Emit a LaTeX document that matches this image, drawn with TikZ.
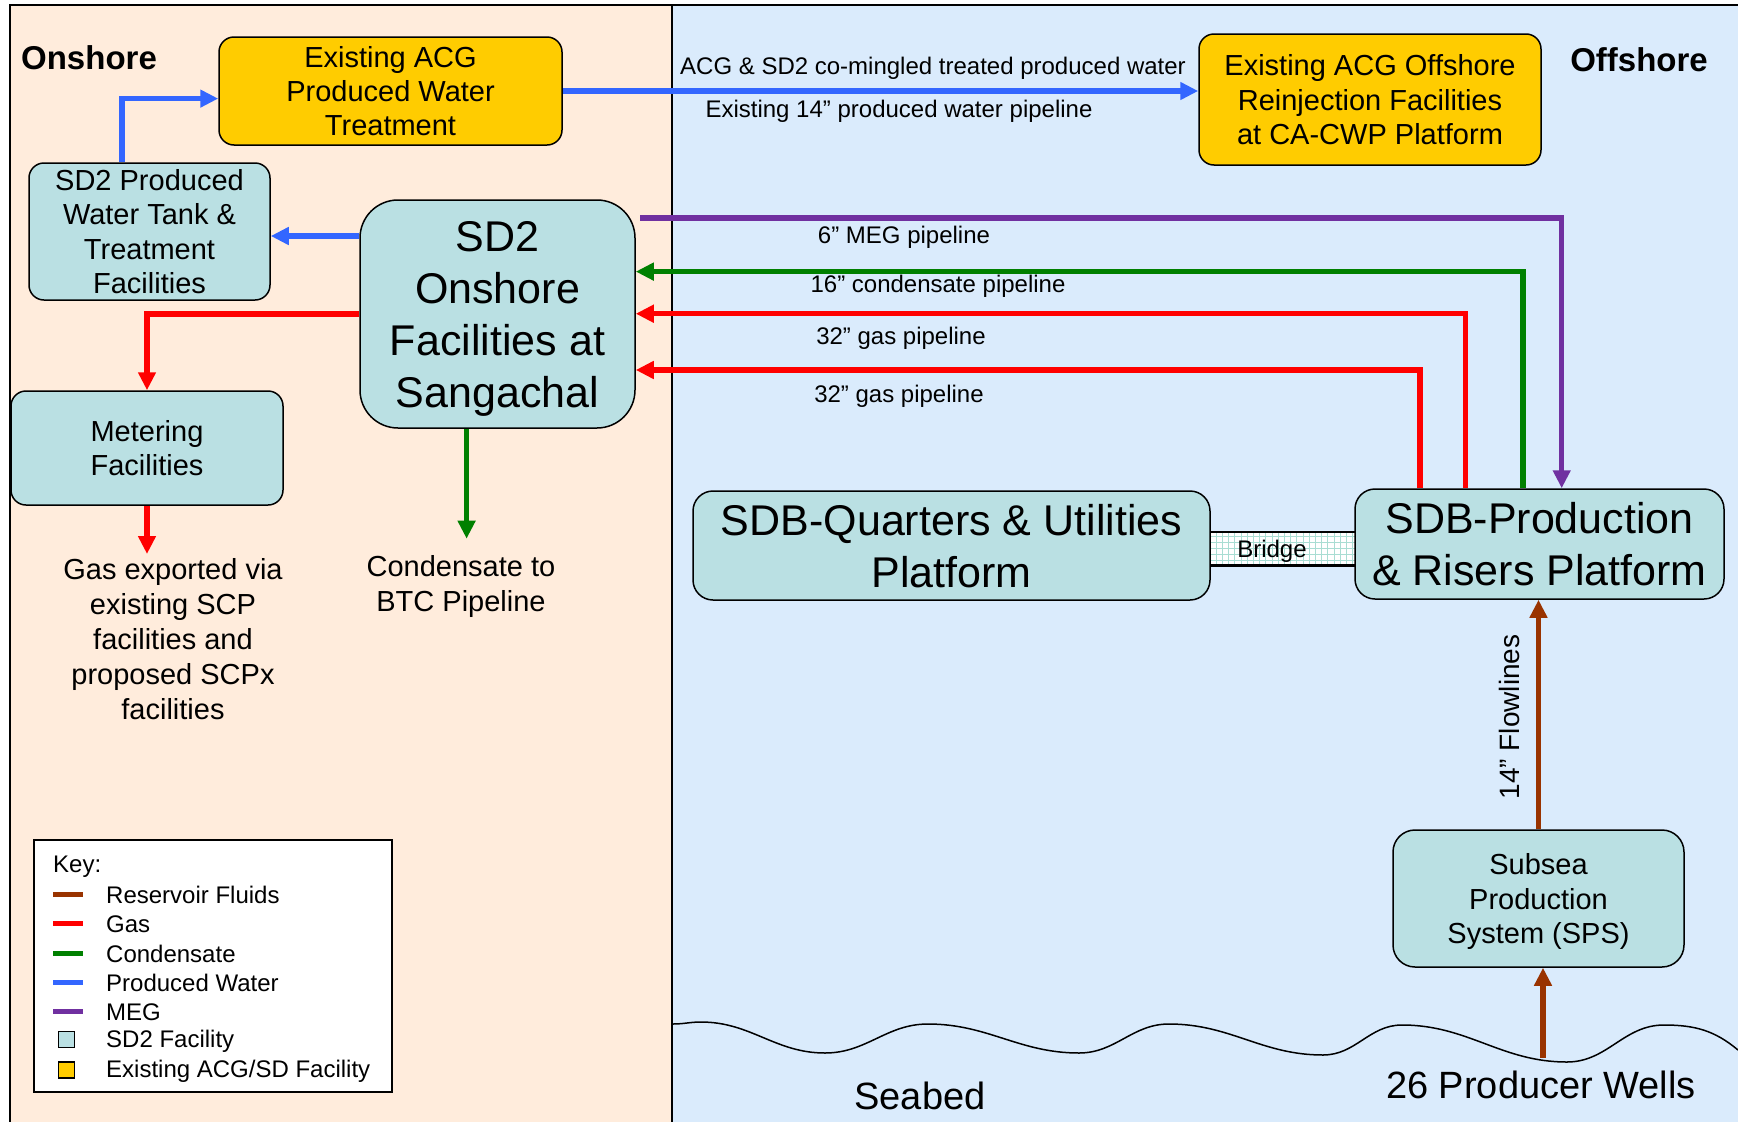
\documentclass[tikz,border=0pt]{standalone}
\usepackage{fontspec}
\setmainfont{Liberation Sans}
\usetikzlibrary{arrows.meta}
\definecolor{peach}{HTML}{FFECDC}
\definecolor{seablue}{HTML}{DAEBFC}
\definecolor{sdteal}{HTML}{BAE0E3}
\definecolor{acgyellow}{HTML}{FFCC00}
\definecolor{pwblue}{HTML}{3366FF}
\definecolor{gasred}{HTML}{FF0000}
\definecolor{condgreen}{HTML}{008000}
\definecolor{megpurple}{HTML}{7030A0}
\definecolor{resbrown}{HTML}{993300}
\definecolor{gridteal}{HTML}{A9DDD3}
\newcommand\fsBox{\fontsize{29}{34.4}\selectfont}
\newcommand\fsBig{\fontsize{43}{52}\selectfont}
\newcommand\fsLbl{\fontsize{24}{29.4}\selectfont}
\newcommand\fsHead{\fontsize{33}{40}\selectfont\bfseries}
\newcommand\fsSea{\fontsize{38}{45}\selectfont}
\begin{document}
\begin{tikzpicture}[x=1pt,y=-1pt,
  facil/.style={draw, line width=1.5pt, rounded corners=15pt, align=center, inner sep=0pt, font=\fsBox, text depth=-3pt},
  sdbox/.style={facil, fill=sdteal},
  exbox/.style={facil, fill=acgyellow},
  pipe/.style={line width=5.5pt, -{Triangle[length=18pt,width=17pt]}},
  lbl/.style={font=\fsLbl, inner sep=0pt},
  txt/.style={font=\fsBox, align=center, inner sep=0pt},
  keyline/.style={line width=5pt},
  keysq/.style={draw, line width=1.2pt, minimum size=16pt, inner sep=0pt},
  keytxt/.style={font=\fsLbl, anchor=west, inner sep=0pt}
]
\useasboundingbox (0,0) rectangle (1738,1122);
% backgrounds
\fill[white] (0,0) rectangle (1738,1122);
\fill[peach] (10,5) rectangle (672,1122);
\fill[seablue] (672,5) rectangle (1738,1122);
\draw[line width=2.5pt] (10,1122) -- (10,5) -- (1738,5);
\draw[line width=2.5pt] (672,5) -- (672,1122);

% seabed
\draw[line width=1.5pt] (673,1024) to[out=0,in=180] (701,1022) to[out=0,in=180] (825,1053)
  to[out=0,in=180] (928,1024) to[out=0,in=180] (1079,1053) to[out=0,in=180] (1169,1024)
  to[out=0,in=180] (1323,1055) to[out=0,in=180] (1402,1025) to[out=0,in=180] (1567,1062)
  to[out=0,in=180] (1664,1025) to[out=0,in=140] (1738,1050);

% headings
\node[font=\fsHead, inner sep=0pt] (onshore) at (89,58) {Onshore};
\node[font=\fsHead, inner sep=0pt] (offshore) at (1639,60) {Offshore};

% bridge
\node[draw, line width=1.5pt, fill=white, minimum width=150pt, minimum height=33pt, inner sep=0pt] (bridge) at (1282.5,548.5) {};
\begin{scope}
  \clip (1208,533) rectangle (1357,564);
  \foreach \i in {0,...,24} {\draw[gridteal, line width=1pt] (1210+6.2*\i,533) -- (1210+6.2*\i,564);}
  \foreach \j in {0,...,5} {\draw[gridteal, line width=1pt] (1208,536+6*\j) -- (1357,536+6*\j);}
\end{scope}
\draw[line width=1.5pt] (bridge.north west) -- (bridge.north east);
\draw[line width=1.5pt] (bridge.south west) -- (bridge.south east);
\node[font=\fsLbl, inner sep=0pt] (bridgetxt) at (1272,551.5) {Bridge};

% facilities
\node[exbox, minimum width=343pt, minimum height=108pt] (acg) at (390.5,91) {Existing ACG\\Produced Water\\Treatment};
\node[sdbox, minimum width=241pt, minimum height=137pt] (tank) at (149.5,231.5) {SD2 Produced\\Water Tank \&\\Treatment\\Facilities};
\node[sdbox, rounded corners=38pt, font=\fsBig, minimum width=275pt, minimum height=228pt] (sd2) at (497.5,314) {SD2\\Onshore\\Facilities at\\Sangachal};
\node[sdbox, minimum width=272pt, minimum height=114pt] (meter) at (147,448) {Metering\\Facilities};
\node[exbox, minimum width=342pt, minimum height=131pt] (reinj) at (1370,99.5) {Existing ACG Offshore\\Reinjection Facilities\\at CA-CWP Platform};
\node[sdbox, rounded corners=20pt, font=\fsBig, minimum width=517pt, minimum height=109pt] (sdbq) at (951.5,545.5) {SDB-Quarters \& Utilities\\Platform};
\node[sdbox, rounded corners=20pt, font=\fsBig, minimum width=369pt, minimum height=110pt] (sdbp) at (1539.5,544) {SDB-Production\\\& Risers Platform};
\node[sdbox, rounded corners=22pt, minimum width=291pt, minimum height=137pt] (sps) at (1538.5,898.5) {Subsea\\Production\\System (SPS)};

% free texts
\node[txt, font=\fontsize{29}{35}\selectfont] (gasexp) at (173,639.5) {Gas exported via\\existing SCP\\facilities and\\proposed SCPx\\facilities};
\node[txt, font=\fontsize{29}{35}\selectfont] (condbtc) at (461,586) {Condensate to\\BTC Pipeline};
\node[font=\fsSea, inner sep=0pt] (seabed) at (920,1096) {Seabed};
\node[font=\fsSea, inner sep=0pt] (wells) at (1541,1085) {26 Producer Wells};

% coordinates
\coordinate (w1) at (122,98.6);
\coordinate (b2) at (0,236);
\coordinate (gx) at (0,554);
\coordinate (cx) at (466.6,538.7);
\coordinate (m1) at (1561.7,218);
\coordinate (c1) at (1523,271.6);
\coordinate (g1) at (1465.3,313.7);
\coordinate (g2) at (1419.9,370);
\coordinate (wl) at (1543,1058);

% produced water
\draw[pipe, pwblue] (tank.north -| w1) |- (acg.west |- w1);
\draw[pipe, pwblue] (acg.east) -- (reinj.west |- acg.east);
\draw[pipe, pwblue] (sd2.west |- b2) -- (tank.east |- b2);
% gas onshore
\draw[pipe, gasred] (sd2.west) -| (meter.north);
\draw[pipe, gasred] (meter.south) -- (meter.south |- gx);
% condensate onshore
\draw[pipe, condgreen] (sd2.south -| cx) -- (cx);
% offshore pipelines
\draw[pipe, megpurple] ([xshift=4.5pt]sd2.east |- m1) -- (m1) -- (sdbp.north -| m1);
\draw[pipe, condgreen] (sdbp.north -| c1) |- (sd2.east |- c1);
\draw[pipe, gasred] (sdbp.north -| g1) |- (sd2.east |- g1);
\draw[pipe, gasred] (sdbp.north -| g2) |- (sd2.east |- g2);
% reservoir fluids
\draw[pipe, resbrown] (sps.north) -- (sdbp.south -| sps.north);
\draw[pipe, resbrown] (wl) -- (sps.south -| wl);

% pipeline labels
\node[lbl] (l1) at (933,68) {ACG \& SD2 co-mingled treated produced water};
\node[lbl] (l2) at (899,111.4) {Existing 14” produced water pipeline};
\node[lbl] (l3) at (904,236.8) {6” MEG pipeline};
\node[lbl] (l4) at (938,285.8) {16” condensate pipeline};
\node[lbl] (l5) at (901,337.8) {32” gas pipeline};
\node[lbl] (l6) at (899,396.3) {32” gas pipeline};
\node[font=\fontsize{28}{33}\selectfont, inner sep=0pt, rotate=90] (l7) at (1509,717) {14” Flowlines};

% key
\node[draw, fill=white, line width=1.5pt, minimum width=358pt, minimum height=252pt, inner sep=0pt] (key) at (213,966) {};
\node[keytxt] (k0) at (53,867) {Key:};
\draw[keyline, resbrown] (53,894) -- (83,894);
\draw[keyline, gasred] (53,923) -- (83,923);
\draw[keyline, condgreen] (53,953) -- (83,953);
\draw[keyline, pwblue] (53,982) -- (83,982);
\draw[keyline, megpurple] (53,1011) -- (83,1011);
\node[keysq, fill=sdteal] (ks1) at (66.5,1039.5) {};
\node[keysq, fill=acgyellow] (ks2) at (66.5,1070) {};
\node[keytxt] (k1) at (106,895) {Reservoir Fluids};
\node[keytxt] (k2) at (106,924) {Gas};
\node[keytxt] (k3) at (106,954) {Condensate};
\node[keytxt] (k4) at (106,983) {Produced Water};
\node[keytxt] (k5) at (106,1012) {MEG};
\node[keytxt] (k6) at (106,1041.5) {SD2 Facility};
\node[keytxt] (k7) at (106,1071.5) {Existing ACG/SD Facility};
\end{tikzpicture}
\end{document}
